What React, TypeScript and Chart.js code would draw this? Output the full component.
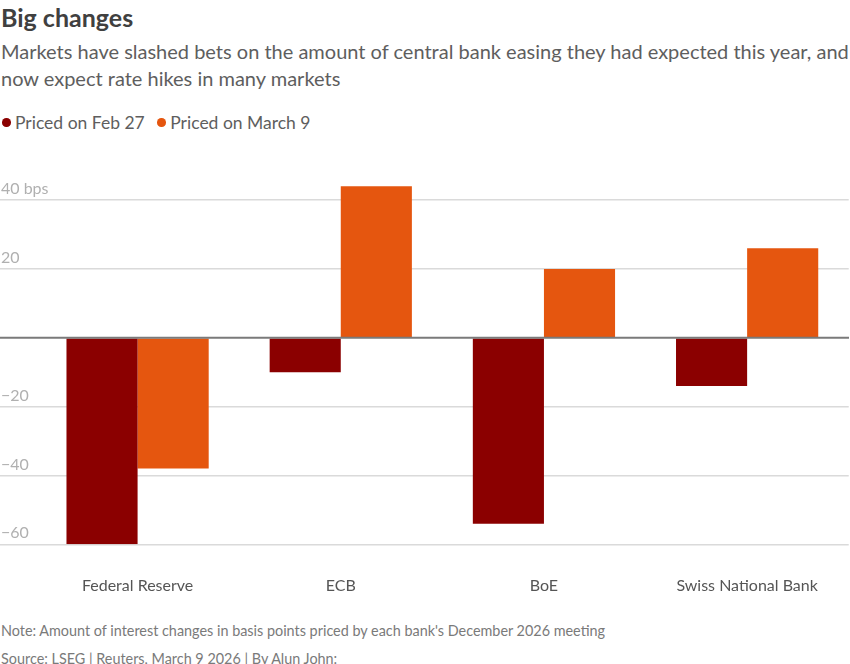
import React, { useEffect, useRef } from "react";
import { Chart, registerables } from "chart.js";

Chart.register(...registerables);

const categories = ["Federal Reserve", "ECB", "BoE", "Swiss National Bank"];
const pricedFeb27 = [-60, -10, -54, -14];
const pricedMarch9 = [-38, 44, 20, 26];
const yTickValues = [-60, -40, -20, 0, 20, 40];
const seriesLabels = ["Priced on Feb 27", "Priced on March 9"];
const seriesColors = ["#8b0000", "#e5560f"];

const FONT = "Lato, 'Noto Sans', sans-serif";

const zeroLinePlugin = {
  id: "zeroLine",
  afterDatasetsDraw(chart: any) {
    const y = chart.scales.y.getPixelForValue(0);
    const ctx = chart.ctx;
    ctx.save();
    ctx.strokeStyle = "#7a7a7a";
    ctx.lineWidth = 2;
    ctx.beginPath();
    ctx.moveTo(0, y);
    ctx.lineTo(chart.width - 1, y);
    ctx.stroke();
    ctx.restore();
  },
};

export default function App() {
  const canvasRef = useRef<HTMLCanvasElement | null>(null);

  useEffect(() => {
    document.body.style.margin = "0";
    if (!canvasRef.current) return;
    const chart = new Chart(canvasRef.current, {
      type: "bar",
      data: {
        labels: categories,
        datasets: [
          {
            label: seriesLabels[0],
            data: pricedFeb27,
            backgroundColor: seriesColors[0],
            borderWidth: 0,
            categoryPercentage: 0.7,
            barPercentage: 1.0,
          },
          {
            label: seriesLabels[1],
            data: pricedMarch9,
            backgroundColor: seriesColors[1],
            borderWidth: 0,
            categoryPercentage: 0.7,
            barPercentage: 1.0,
          },
        ],
      },
      options: {
        animation: false,
        responsive: false,
        maintainAspectRatio: false,
        layout: { padding: { top: 25.6, right: 1, bottom: 0, left: 0 } },
        plugins: {
          legend: { display: false },
          tooltip: { enabled: false },
          title: { display: false },
        },
        scales: {
          x: {
            grid: { display: false, drawTicks: false },
            border: { display: false },
            ticks: {
              color: "#555555",
              padding: 32,
              font: { family: FONT, size: 16 },
              maxRotation: 0,
            },
            afterFit(scale: any) {
              scale.height = 55.7;
            },
          },
          y: {
            min: -60,
            max: 50,
            afterBuildTicks(scale: any) {
              scale.ticks = yTickValues.map((v) => ({ value: v }));
            },
            afterFit(scale: any) {
              scale.width = 36;
            },
            border: { display: false },
            grid: {
              drawTicks: true,
              tickLength: 36,
              lineWidth: 1.5,
              color: (ctx: any) =>
                ctx.tick && ctx.tick.value === 0 ? "rgba(0,0,0,0)" : "#dadada",
            },
            ticks: {
              mirror: true,
              padding: -35,
              color: "#b0b0b0",
              font: { family: FONT, size: 16, lineHeight: "22px" },
              callback: (value: any) => {
                const v = Number(value);
                if (v === 0) return "";
                let label = v < 0 ? "\u2212" + Math.abs(v) : String(v);
                if (v === yTickValues[yTickValues.length - 1]) label += " bps";
                return [label, ""];
              },
            },
          },
        },
      },
      plugins: [zeroLinePlugin],
    });
    return () => chart.destroy();
  }, []);

  const textBase: React.CSSProperties = {
    position: "absolute",
    left: 0,
    whiteSpace: "nowrap",
    fontFamily: FONT,
  };

  return (
    <div
      style={{
        position: "relative",
        width: 850,
        height: 664,
        overflow: "hidden",
        background: "#ffffff",
        fontFamily: FONT,
      }}
    >
      <div
        style={{
          ...textBase,
          left: 1,
          top: 2,
          fontSize: 25,
          lineHeight: "30px",
          fontWeight: 700,
          color: "#404040",
        }}
      >
        Big changes
      </div>
      <div
        style={{
          ...textBase,
          left: 1,
          top: 38.2,
          fontSize: 20,
          lineHeight: "26.7px",
          color: "#5e5e5e",
        }}
      >
        Markets have slashed bets on the amount of central bank easing they had expected this year, and
        <br />
        now expect rate hikes in many markets
      </div>
      <div
        style={{
          ...textBase,
          left: 2,
          top: 110.5,
          fontSize: 17.5,
          lineHeight: "24px",
          color: "#5e5e5e",
          display: "flex",
          alignItems: "center",
        }}
      >
        {seriesLabels.map((s, i) => (
          <span key={s} style={{ display: "flex", alignItems: "center", marginRight: 12.5 }}>
            <span
              style={{
                display: "inline-block",
                width: 8.5,
                height: 8.5,
                borderRadius: "50%",
                background: seriesColors[i],
                marginRight: 4.5,
              }}
            />
            {s}
          </span>
        ))}
      </div>
      <canvas
        ref={canvasRef}
        width={850}
        height={460}
        style={{ position: "absolute", left: 0, top: 140, width: 850, height: 460 }}
      />
      <div
        style={{
          ...textBase,
          left: 1,
          top: 621.4,
          fontSize: 14.4,
          lineHeight: "20px",
          color: "#7a7a7a",
        }}
      >
        Note: Amount of interest changes in basis points priced by each bank's December 2026 meeting
      </div>
      <div
        style={{
          ...textBase,
          left: 1,
          top: 649.4,
          fontSize: 14.4,
          lineHeight: "20px",
          color: "#7a7a7a",
        }}
      >
        Source: LSEG | Reuters, March 9 2026 | By Alun John:
      </div>
    </div>
  );
}
